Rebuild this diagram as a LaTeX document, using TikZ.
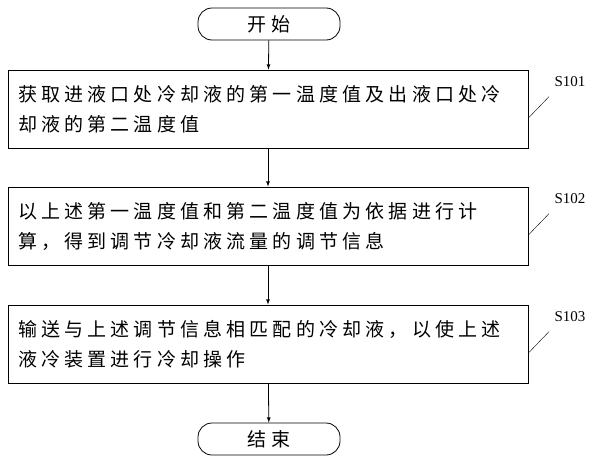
\documentclass[tikz,border=0pt]{standalone}
\usepackage{fontspec}
\setmainfont{Liberation Serif}
\newfontfamily\cjk[LetterSpace=22]{Noto Sans CJK SC}
\usetikzlibrary{positioning}
\begin{document}
\begin{tikzpicture}[x=1pt,y=-1pt,
  every node/.style={font=\cjk\fontsize{19}{30}\selectfont},
  termbox/.style={draw,thick,rounded corners=14pt,minimum width=142pt,minimum height=32pt},
  stepbox/.style={draw,thick,minimum width=520pt,minimum height=78pt,text width=500pt,align=left},
  steplabel/.style={font=\fontsize{15}{15}\selectfont},
  flow/.style={->,thick,>=latex}]
  \useasboundingbox (0,0) rectangle (600,466);
  % start and end
  \node[termbox] (start) at (269,24) {开始};
  \node[stepbox] (s1) at (268,109) {获取进液口处冷却液的第一温度值及出液口处冷\\却液的第二温度值};
  \node[stepbox] (s2) at (268,226) {以上述第一温度值和第二温度值为依据进行计\\算，得到调节冷却液流量的调节信息};
  \node[stepbox] (s3) at (268,344) {输送与上述调节信息相匹配的冷却液，以使上述\\液冷装置进行冷却操作};
  \node[termbox] (end) at (269,439) {结束};
  % arrows
  \draw[flow] (start) -- (s1);
  \draw[flow] (s1) -- (s2);
  \draw[flow] (s2) -- (s3);
  \draw[flow] (s3) -- (end);
  % step labels
  \node[steplabel] (l1) at (570,82) {S101};
  \node[steplabel] (l2) at (570,199) {S102};
  \node[steplabel] (l3) at (570,317) {S103};
  \draw (l1.south west) ++(-2,6) -- (s1.east |- 0,118);
  \draw (l2.south west) ++(-2,6) -- (s2.east |- 0,235);
  \draw (l3.south west) ++(-2,6) -- (s3.east |- 0,353);
\end{tikzpicture}
\end{document}
